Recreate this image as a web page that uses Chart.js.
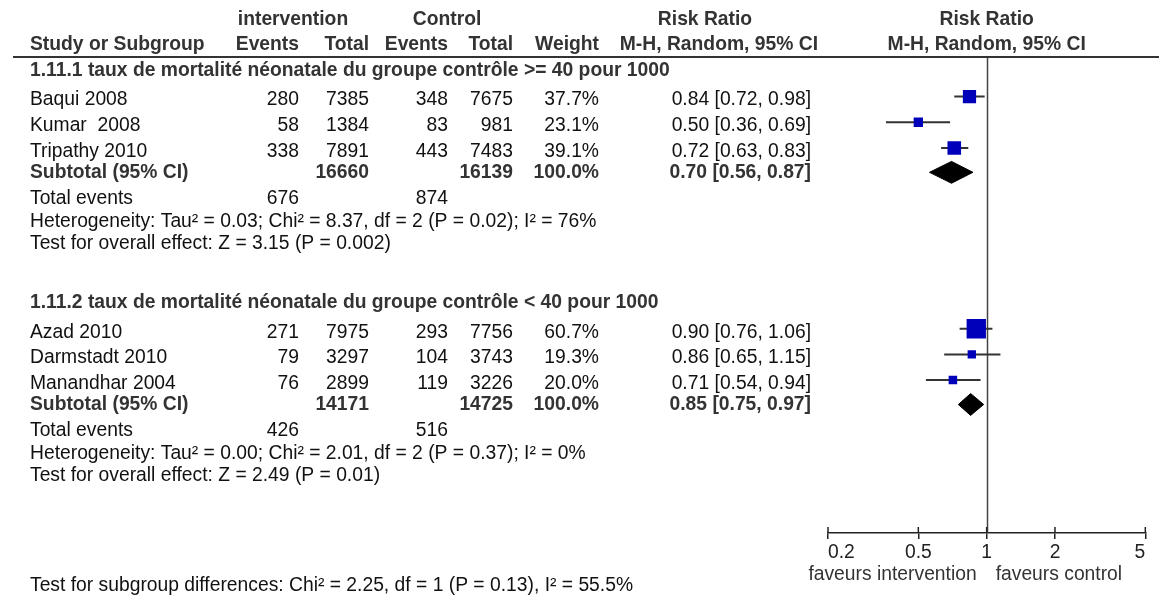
<!DOCTYPE html>
<html>
<head>
<meta charset="utf-8">
<script src="https://cdn.jsdelivr.net/npm/chart.js@4"></script>
<style>
  html, body { margin: 0; padding: 0; background: #fff; }
  #wrap { width: 1159px; height: 599px; }
</style>
</head>
<body>
<div id="wrap"><canvas id="forest" width="1159" height="599"></canvas></div>
<script>
// --- data ---
const studies = ['Baqui 2008', 'Kumar  2008', 'Tripathy 2010', 'Azad 2010', 'Darmstadt 2010', 'Manandhar 2004'];
const studyGroup = [0, 0, 0, 1, 1, 1];
const intEvents = [280, 58, 338, 271, 79, 76];
const intTotal = [7385, 1384, 7891, 7975, 3297, 2899];
const ctlEvents = [348, 83, 443, 293, 104, 119];
const ctlTotal = [7675, 981, 7483, 7756, 3743, 3226];
const weights = [37.7, 23.1, 39.1, 60.7, 19.3, 20.0];
const rr = [0.84, 0.50, 0.72, 0.90, 0.86, 0.71];
const rrLow = [0.72, 0.36, 0.63, 0.76, 0.65, 0.54];
const rrHigh = [0.98, 0.69, 0.83, 1.06, 1.15, 0.94];

const groupTitles = [
  '1.11.1 taux de mortalité néonatale du groupe contrôle >= 40 pour 1000',
  '1.11.2 taux de mortalité néonatale du groupe contrôle < 40 pour 1000'
];
const subIntTotal = [16660, 14171];
const subCtlTotal = [16139, 14725];
const subRR = [0.70, 0.85];
const subLow = [0.56, 0.75];
const subHigh = [0.87, 0.97];
const totIntEvents = [676, 426];
const totCtlEvents = [874, 516];
const heterogeneity = [
  'Heterogeneity: Tau² = 0.03; Chi² = 8.37, df = 2 (P = 0.02); I² = 76%',
  'Heterogeneity: Tau² = 0.00; Chi² = 2.01, df = 2 (P = 0.37); I² = 0%'
];
const overallEffect = [
  'Test for overall effect: Z = 3.15 (P = 0.002)',
  'Test for overall effect: Z = 2.49 (P = 0.01)'
];
const subgroupDiff = 'Test for subgroup differences: Chi² = 2.25, df = 1 (P = 0.13), I² = 55.5%';
const xTicks = [0.2, 0.5, 1, 2, 5];
const favourLabels = ['faveurs intervention', 'faveurs control'];

// --- layout ---
const FONT = '"Liberation Sans", Arial, Helvetica, sans-serif';
const FSIZE = 19.3;
const COL = { study: 30, ev1: 299, tot1: 369, ev2: 448, tot2: 513, weight: 599, ci: 811 };

// row positions (row units below the header rule)
const rows = { title: [], study: [], subtotal: [], totals: [], het: [], overall: [] };
let pos = 0.55;
groupTitles.forEach((t, g) => {
  rows.title[g] = pos;
  studies.forEach((s, i) => {
    if (studyGroup[i] !== g) return;
    pos += 1.01;
    rows.study[i] = pos;
  });
  pos += 0.96; rows.subtotal[g] = pos;
  pos += 1.05; rows.totals[g] = pos;
  pos += 0.88; rows.het[g] = pos;
  pos += 0.88; rows.overall[g] = pos;
  pos += 2.34;
});
const yMax = 18.74;

const datasets = [];
studies.forEach((s, i) => {
  datasets.push({
    type: 'scatter',
    data: [{ x: rrLow[i], y: rows.study[i] }, { x: rrHigh[i], y: rows.study[i] }],
    showLine: true, borderColor: '#333', borderWidth: 2, pointRadius: 0, order: 3
  });
});
datasets.push({
  type: 'scatter',
  data: studies.map((s, i) => ({ x: rr[i], y: rows.study[i] })),
  pointStyle: 'rect',
  pointRadius: weights.map(w => (3.2 + 0.266 * w) / (2 * Math.SQRT1_2)),
  backgroundColor: '#0000bb', borderColor: '#0000bb', borderWidth: 0, order: 1
});
subRR.forEach((v, g) => {
  const r = rows.subtotal[g], h = 0.43;
  datasets.push({
    type: 'scatter',
    data: [
      { x: subLow[g], y: r }, { x: v, y: r - h }, { x: subHigh[g], y: r },
      { x: v, y: r + h }, { x: subLow[g], y: r }
    ],
    showLine: true, fill: 'shape', backgroundColor: '#000', borderColor: '#000',
    borderWidth: 1, pointRadius: 0, order: 2
  });
});

// null line under the marks
const nullLine = {
  id: 'nullLine',
  beforeDatasetsDraw(chart) {
    const { ctx, chartArea: area, scales: { x } } = chart;
    const px = Math.round(x.getPixelForValue(1)) + 0.5;
    ctx.save();
    ctx.strokeStyle = '#444';
    ctx.lineWidth = 1.5;
    ctx.beginPath();
    ctx.moveTo(px, area.top);
    ctx.lineTo(px, area.bottom);
    ctx.stroke();
    // tick marks above the axis
    ctx.strokeStyle = '#222';
    xTicks.forEach(v => {
      const tx = x.getPixelForValue(v);
      ctx.beginPath();
      ctx.moveTo(tx, area.bottom - 6);
      ctx.lineTo(tx, area.bottom);
      ctx.stroke();
    });
    ctx.restore();
  }
};

const tableText = {
  id: 'tableText',
  afterDraw(chart) {
    const { ctx, chartArea: area, scales: { x, y } } = chart;
    const put = (s, px, py, align, bold) => {
      ctx.font = (bold ? 'bold ' : '') + FSIZE + 'px ' + FONT;
      ctx.fillStyle = bold ? '#333' : '#111';
      ctx.textAlign = align;
      ctx.textBaseline = 'middle';
      ctx.fillText(s, px, py);
    };
    const ci = (a, b, c) => a.toFixed(2) + ' [' + b.toFixed(2) + ', ' + c.toFixed(2) + ']';
    const x1 = x.getPixelForValue(1);
    ctx.save();

    // header
    put('intervention', 293, 20, 'center', true);
    put('Control', 447, 20, 'center', true);
    put('Risk Ratio', 705, 20, 'center', true);
    put('Risk Ratio', x1, 20, 'center', true);
    put('Study or Subgroup', COL.study, 45, 'left', true);
    put('Events', COL.ev1, 45, 'right', true);
    put('Total', COL.tot1, 45, 'right', true);
    put('Events', COL.ev2, 45, 'right', true);
    put('Total', COL.tot2, 45, 'right', true);
    put('Weight', COL.weight, 45, 'right', true);
    put('M-H, Random, 95% CI', 818, 45, 'right', true);
    put('M-H, Random, 95% CI', x1, 45, 'center', true);

    ctx.strokeStyle = '#333';
    ctx.lineWidth = 2;
    ctx.beginPath();
    ctx.moveTo(13, area.top);
    ctx.lineTo(chart.width, area.top);
    ctx.stroke();

    groupTitles.forEach((t, g) => {
      put(t, COL.study, y.getPixelForValue(rows.title[g]), 'left', true);
      const ps = y.getPixelForValue(rows.subtotal[g]);
      put('Subtotal (95% CI)', COL.study, ps, 'left', true);
      put(String(subIntTotal[g]), COL.tot1, ps, 'right', true);
      put(String(subCtlTotal[g]), COL.tot2, ps, 'right', true);
      put('100.0%', COL.weight, ps, 'right', true);
      put(ci(subRR[g], subLow[g], subHigh[g]), COL.ci, ps, 'right', true);
      const pt = y.getPixelForValue(rows.totals[g]);
      put('Total events', COL.study, pt, 'left', false);
      put(String(totIntEvents[g]), COL.ev1, pt, 'right', false);
      put(String(totCtlEvents[g]), COL.ev2, pt, 'right', false);
      put(heterogeneity[g], COL.study, y.getPixelForValue(rows.het[g]), 'left', false);
      put(overallEffect[g], COL.study, y.getPixelForValue(rows.overall[g]), 'left', false);
    });

    studies.forEach((s, i) => {
      const py = y.getPixelForValue(rows.study[i]) + 3.5;
      put(s, COL.study, py, 'left', false);
      put(String(intEvents[i]), COL.ev1, py, 'right', false);
      put(String(intTotal[i]), COL.tot1, py, 'right', false);
      put(String(ctlEvents[i]), COL.ev2, py, 'right', false);
      put(String(ctlTotal[i]), COL.tot2, py, 'right', false);
      put(weights[i].toFixed(1) + '%', COL.weight, py, 'right', false);
      put(ci(rr[i], rrLow[i], rrHigh[i]), COL.ci, py, 'right', false);
    });

    ctx.font = FSIZE + 'px ' + FONT;
    ctx.fillStyle = '#333';
    ctx.textBaseline = 'middle';
    ctx.textAlign = 'right';
    ctx.fillText(favourLabels[0], x1 - 10, 575);
    ctx.textAlign = 'left';
    ctx.fillText(favourLabels[1], x1 + 9, 575);

    put(subgroupDiff, COL.study, 586, 'left', false);
    ctx.restore();
  }
};

new Chart(document.getElementById('forest'), {
  type: 'scatter',
  data: { datasets },
  options: {
    responsive: false,
    animation: false,
    layout: { padding: { left: 828, right: 12, top: 57, bottom: 0 } },
    plugins: { legend: { display: false }, tooltip: { enabled: false } },
    scales: {
      x: {
        type: 'logarithmic', min: 0.2, max: 5, position: 'bottom',
        afterBuildTicks: s => { s.ticks = xTicks.map(v => ({ value: v })); },
        afterFit: s => { s.height = 66; },
        ticks: {
          color: '#222', font: { family: FONT, size: FSIZE }, padding: 2, align: 'inner',
          maxRotation: 0, autoSkip: false, callback: v => String(v)
        },
        grid: { drawOnChartArea: false, color: '#222', lineWidth: 1.5, tickLength: 6 },
        border: { color: '#222', width: 1.5 }
      },
      y: { type: 'linear', min: 0, max: yMax, reverse: true, display: false }
    }
  },
  plugins: [nullLine, tableText]
});
</script>
</body>
</html>
